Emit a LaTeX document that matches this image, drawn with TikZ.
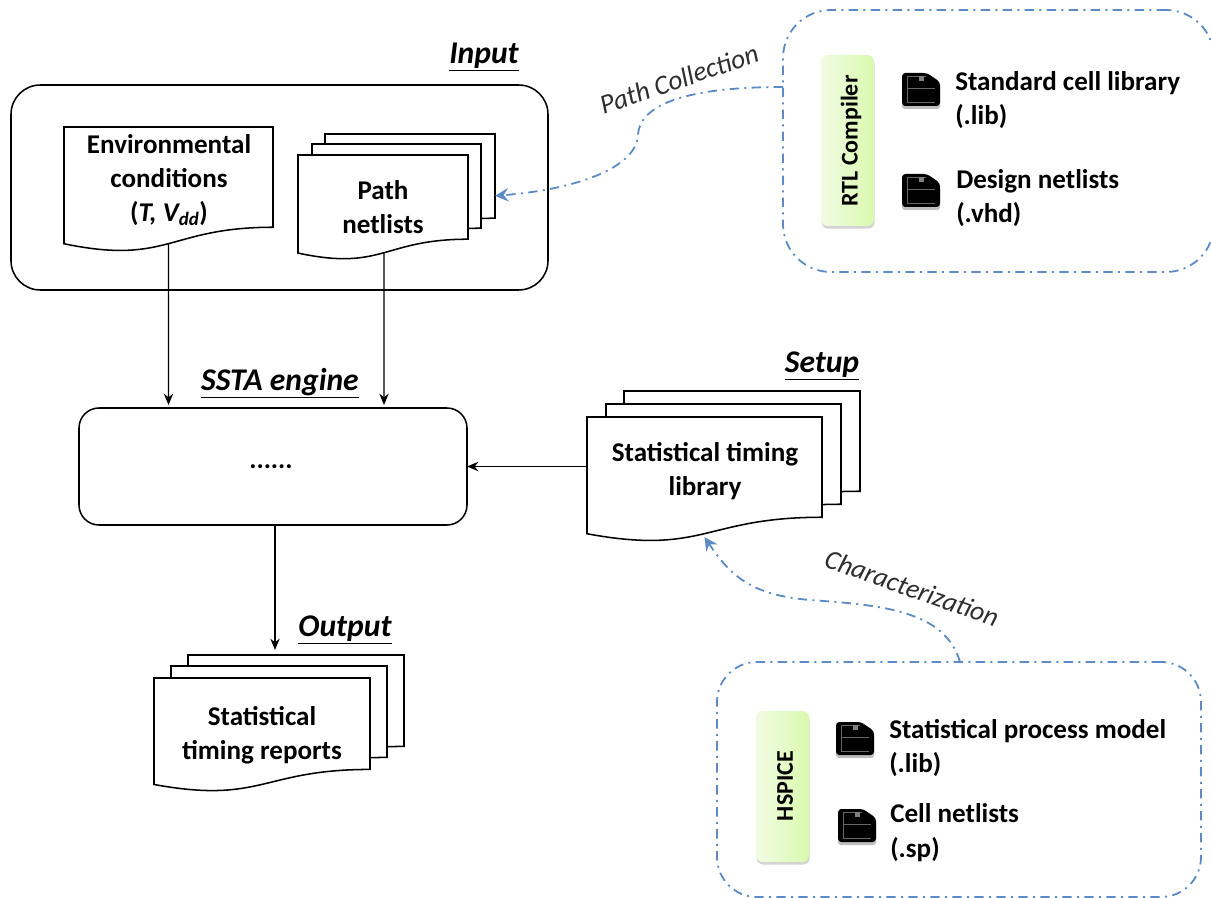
\documentclass[tikz,border=0pt]{standalone}
\usepackage{fontspec}
\setmainfont{Carlito}
\usetikzlibrary{arrows.meta,calc,shadows,shapes.misc}
\definecolor{dashblue}{HTML}{5B8AC4}
\definecolor{pale}{HTML}{F1FCE4}
\definecolor{lime}{HTML}{DAF9AE}
\tikzset{
  px/.style={x=0.75pt,y=-0.75pt},
  blackline/.style={draw=black,line width=1.15pt},
  sheetbox/.style={inner sep=0pt,outer sep=0pt,draw=none},
  sheetline/.style={blackline,fill=white,line join=miter},
  bodytext/.style={font=\fontsize{20.3}{18}\selectfont\bfseries,align=center,inner sep=0pt,text=black},
  listtext/.style={bodytext,anchor=base west},
  headtext/.style={font=\fontsize{23.7}{24}\selectfont\bfseries\itshape,inner sep=0pt},
  flowlabel/.style={font=\fontsize{20.5}{20}\selectfont\itshape,text=black!82,inner sep=0pt},
  roundbox/.style={blackline,rectangle,inner sep=0pt,outer sep=0pt},
  flowarrow/.style={draw=black,line width=1.1pt,-{Stealth[length=8.5pt,width=7pt]}},
  blueframe/.style={draw=dashblue,line width=1.35pt,dash pattern=on 7pt off 4pt on 1.5pt off 4pt,inner sep=0pt,outer sep=0pt},
  bluearrow/.style={draw=dashblue,line width=1.35pt,dash pattern=on 7pt off 4pt on 1.5pt off 4pt,-{Stealth[length=10pt,width=10pt,inset=3.5pt]}},
  toolbox/.style={rounded corners=5pt,left color=pale,right color=lime,draw=none,inner sep=0pt,outer sep=0pt,
    drop shadow={shadow xshift=0.5pt,shadow yshift=-2pt,opacity=0.35}},
  tooltext/.style={font=\fontsize{18}{18}\selectfont\bfseries,rotate=90,inner sep=0pt},
}
% name, left, top, width, height
\newcommand{\docsheet}[5]{%
  \pgfmathsetmacro{\sw}{(#4)*0.75}\pgfmathsetmacro{\sh}{(#5)*0.75}%
  \node[sheetbox,minimum width=\sw pt,minimum height=\sh pt] (#1) at ({#2+(#4)/2},{#3+(#5)/2}) {};
  \draw[sheetline] (#1.north west) -- (#1.north east)
    -- ($(#1.north east)!.802!(#1.south east)$)
    .. controls ($(#1.north)!.802!(#1.south)$) and ($(#1.north)!1.108!(#1.south)$) ..
    ($(#1.north west)!.934!(#1.south west)$) -- cycle;
}
% left, top of a 38 x 34 icon
\newcommand{\floppyicon}[2]{%
  \begin{scope}[shift={(#1,#2)}]
    \fill[black!25,rounded corners=2pt] (0,3) -- (25,3) -- (38,12) -- (38,36) -- (0,36) -- cycle;
    \fill[black,rounded corners=2.5pt] (0,0) -- (25,0) -- (38,9) -- (38,33) -- (0,33) -- cycle;
    \draw[black!60,line width=0.5pt] (5,3) -- (5,29) -- (33,29);
    \draw[black!60,line width=0.5pt] (5,15) -- (33,15);
    \draw[black!60,line width=0.5pt] (5,3) -- (24,3);
    \fill[black!50] (17,3) rectangle (22,8);
  \end{scope}}
\begin{document}
\begin{tikzpicture}[px]
\useasboundingbox (0,0) rectangle (1211,898);
\clip (0,0) rectangle (1211,898);

% Input group
\node[roundbox,rounded corners=22pt,minimum width=402.75pt,minimum height=153.75pt] (inputbox) at (279.5,187.5) {};
\docsheet{env}{64}{127}{209}{125}
\docsheet{pathc}{325}{134}{170}{105}
\docsheet{pathb}{312}{144}{169}{105}
\docsheet{patha}{298}{155}{170}{105}
\node[bodytext] (envt) at (169,180) {Environmental\\[7.5pt]conditions\\[7.5pt](\textit{T, V\textsubscript{dd}})};
\node[bodytext] (patht) at (383,207) {Path\\[7.5pt]netlists};
\node[headtext] (inputh) at (484,57) {\underline{Input}};

% SSTA engine
\node[roundbox,rounded corners=15pt,minimum width=291pt,minimum height=87.75pt] (ssta) at (273,466.5) {};
\node[bodytext] (dots) at (271,467) {......};
\node[headtext] (ssth) at (280,383) {\underline{SSTA engine}};

% Setup
\docsheet{setc}{624}{391}{236}{125}
\docsheet{setb}{606}{404}{235}{125}
\docsheet{seta}{587}{417}{235}{125}
\node[bodytext] (sett) at (705,471) {Statistical timing\\[7.5pt]library};
\node[headtext] (seth) at (822,366) {\underline{Setup}};

% Output
\docsheet{outc}{188}{655}{216}{114}
\docsheet{outb}{171}{666}{216}{114}
\docsheet{outa}{154}{678}{216}{114}
\node[bodytext] (outt) at (262,735) {Statistical\\[7.5pt]timing reports};
\node[headtext] (outh) at (345,630) {\underline{Output}};

% Connectors
\draw[flowarrow] ($(env.north)!.933!(env.south)$) -- (env.south |- 0,405);
\draw[flowarrow] ([xshift=0.75pt]$(patha.north)!.933!(patha.south)$) -- ([xshift=0.75pt]patha.south |- 0,405);
\draw[flowarrow] (ssta.east -| seta.west) -- (ssta.east);
\draw[flowarrow] ([xshift=1.5pt]ssta.south) -- ([xshift=1.5pt]ssta.south |- 0,650);

% RTL Compiler group
\node[blueframe,rounded corners=36pt,minimum width=323.25pt,minimum height=196.5pt] (rtlgroup) at (998.5,141) {};
\node[toolbox,minimum width=39.75pt,minimum height=128.25pt] (rtl) at (847.5,140.5) {};
\node[tooltext] (rtlt) at (851,141) {RTL Compiler};
\floppyicon{902}{73}
\floppyicon{902}{174}
\node[listtext] (l1) at (955,91) {Standard cell library};
\node[listtext] (l2) at (955,125) {(.lib)};
\node[listtext] (l3) at (956,189) {Design netlists};
\node[listtext] (l4) at (956,223) {(.vhd)};

% HSPICE group
\node[blueframe,rounded corners=30pt,minimum width=363pt,minimum height=176.25pt] (spicegroup) at (959,779.5) {};
\node[toolbox,minimum width=39.75pt,minimum height=113.25pt] (spice) at (782.5,786.5) {};
\node[tooltext] (spicet) at (785,786) {HSPICE};
\floppyicon{836}{722}
\floppyicon{838}{809}
\node[listtext] (m1) at (889,738) {Statistical process model};
\node[listtext] (m2) at (889,772) {(.lib)};
\node[listtext] (m3) at (890,822) {Cell netlists};
\node[listtext] (m4) at (890,857) {(.sp)};

% Dashed connectors
\draw[bluearrow] (rtlgroup.west |- 0,87) .. controls (700,87) and (640,100) .. (638,135)
  .. controls (636,170) and (570,190) .. ([yshift=-7pt]pathc.east);
\draw[bluearrow] (spicegroup.north -| 960,0) .. controls (945,610) and (880,605) .. (810,600)
  .. controls (750,595) and (730,575) .. ($(seta.north)!.96!(seta.south)$);
\node[flowlabel,rotate=19] (pc) at (679,79) {Path Collection};
\node[flowlabel,rotate=-19.5] (ch) at (912,588) {Characterization};
\end{tikzpicture}
\end{document}
